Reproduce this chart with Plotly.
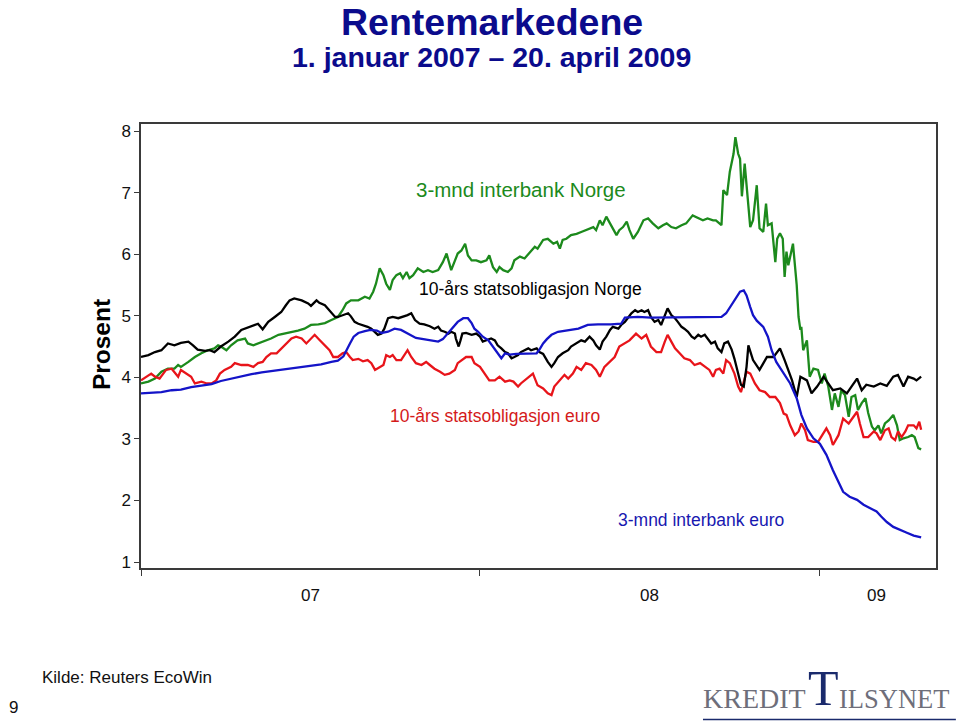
import pandas as pd
import plotly.graph_objects as go

# ---------------- data (day offset from 1 Jan 2007, percent) ----------------
start_date = "2007-01-01"

norway_10y = [
    (0, 4.33), (8, 4.36), (15, 4.41), (22, 4.44), (29, 4.55), (36, 4.52), (43, 4.56), (51, 4.58),
    (56, 4.52), (61, 4.45), (69, 4.43), (74, 4.44), (79, 4.41), (86, 4.50), (94, 4.58), (101, 4.66),
    (108, 4.77), (115, 4.81), (122, 4.85), (126, 4.87), (131, 4.78), (137, 4.90), (144, 4.98),
    (151, 5.06), (156, 5.17), (160, 5.25), (165, 5.28), (173, 5.25), (180, 5.20), (183, 5.16),
    (189, 5.25), (192, 5.21), (198, 5.17), (203, 5.09), (209, 4.98), (212, 4.98), (217, 5.01),
    (223, 5.04), (226, 4.99), (230, 4.90), (234, 4.87), (239, 4.85), (244, 4.82), (248, 4.79),
    (252, 4.74), (255, 4.69), (259, 4.71), (262, 4.79), (266, 4.96), (271, 4.98), (277, 4.96),
    (282, 4.98), (287, 5.01), (291, 5.04), (295, 4.93), (300, 4.87), (305, 4.86), (311, 4.83),
    (316, 4.79), (320, 4.82), (323, 4.76), (327, 4.74), (331, 4.71), (334, 4.74), (338, 4.71),
    (339, 4.63), (342, 4.50), (344, 4.60), (346, 4.71), (350, 4.72), (356, 4.69), (361, 4.71),
    (365, 4.66), (368, 4.58), (372, 4.60), (377, 4.63), (381, 4.60), (384, 4.52), (388, 4.47),
    (392, 4.41), (395, 4.39), (399, 4.31), (402, 4.33), (406, 4.36), (409, 4.41), (413, 4.44),
    (417, 4.47), (420, 4.44), (426, 4.47), (429, 4.41), (433, 4.38), (438, 4.25), (442, 4.17),
    (445, 4.23), (449, 4.33), (454, 4.39), (460, 4.44), (463, 4.50), (469, 4.55), (474, 4.60),
    (478, 4.58), (483, 4.66), (487, 4.60), (490, 4.52), (494, 4.45), (497, 4.58), (501, 4.66),
    (505, 4.77), (508, 4.82), (514, 4.79), (517, 4.85), (521, 4.90), (524, 4.96), (528, 5.04),
    (532, 5.09), (535, 5.06), (539, 5.09), (542, 5.06), (546, 5.09), (549, 4.98), (553, 4.90),
    (557, 4.93), (560, 4.85), (564, 5.01), (567, 5.12), (571, 5.01), (575, 4.96), (578, 4.90),
    (582, 4.82), (585, 4.79), (589, 4.74), (593, 4.66), (596, 4.63), (600, 4.69), (603, 4.66),
    (607, 4.69), (610, 4.63), (614, 4.55), (618, 4.58), (621, 4.47), (625, 4.41), (628, 4.55),
    (632, 4.58), (636, 4.45), (639, 4.30), (643, 4.05), (646, 3.88), (649, 3.85), (652, 4.17),
    (654, 4.52), (659, 4.28), (666, 4.12), (674, 4.33), (681, 4.33), (688, 4.47), (693, 4.28),
    (701, 3.95), (706, 3.68), (710, 4.01), (717, 3.95), (722, 3.74), (728, 3.85), (735, 4.01),
    (740, 3.90), (745, 3.79), (753, 3.82), (760, 3.74), (765, 3.85), (771, 3.98), (776, 3.79),
    (781, 3.88), (789, 3.85), (796, 3.90), (803, 3.86), (810, 4.01), (815, 4.04), (821, 3.85),
    (826, 4.01), (832, 3.98), (835, 3.95), (840, 4.01),
]

norway_3m = [
    (0, 3.90), (8, 3.93), (15, 3.98), (22, 4.09), (29, 4.14), (36, 4.14), (40, 4.20), (43, 4.17),
    (51, 4.25), (58, 4.33), (65, 4.39), (72, 4.44), (79, 4.47), (83, 4.52), (86, 4.50), (92, 4.44),
    (97, 4.52), (104, 4.60), (112, 4.63), (115, 4.55), (121, 4.52), (126, 4.55), (133, 4.58),
    (140, 4.63), (148, 4.69), (155, 4.71), (162, 4.74), (169, 4.76), (176, 4.79), (183, 4.85),
    (191, 4.86), (198, 4.88), (205, 4.93), (212, 4.98), (217, 5.09), (221, 5.20), (226, 5.25),
    (234, 5.25), (241, 5.31), (246, 5.28), (250, 5.39), (253, 5.52), (257, 5.77), (261, 5.66),
    (264, 5.52), (268, 5.42), (271, 5.58), (275, 5.66), (279, 5.69), (282, 5.61), (286, 5.71),
    (289, 5.61), (293, 5.66), (298, 5.77), (304, 5.71), (309, 5.74), (314, 5.71), (320, 5.74),
    (325, 5.87), (329, 6.01), (334, 5.74), (338, 5.90), (341, 6.01), (345, 6.06), (349, 6.17),
    (352, 5.98), (356, 5.90), (361, 5.90), (366, 5.87), (372, 5.90), (375, 5.98), (379, 5.79),
    (383, 5.71), (386, 5.79), (390, 5.74), (395, 5.71), (399, 5.77), (402, 5.90), (408, 5.96),
    (413, 5.93), (419, 6.04), (424, 6.12), (427, 6.09), (433, 6.23), (438, 6.25), (444, 6.17),
    (448, 6.20), (451, 6.09), (454, 6.23), (458, 6.25), (463, 6.31), (469, 6.33), (474, 6.36),
    (479, 6.39), (483, 6.42), (487, 6.44), (490, 6.39), (494, 6.55), (497, 6.47), (501, 6.61),
    (505, 6.50), (508, 6.42), (512, 6.31), (515, 6.39), (519, 6.44), (523, 6.53), (526, 6.39),
    (530, 6.25), (535, 6.36), (541, 6.55), (546, 6.58), (551, 6.50), (557, 6.42), (562, 6.47),
    (566, 6.50), (571, 6.44), (576, 6.42), (582, 6.47), (587, 6.50), (594, 6.63), (600, 6.58),
    (605, 6.55), (610, 6.58), (616, 6.55), (619, 6.55), (623, 6.50), (625, 6.47), (627, 7.04),
    (631, 6.96), (634, 7.34), (638, 7.63), (640, 7.90), (643, 7.63), (645, 7.55), (647, 6.94),
    (650, 7.47), (654, 6.74), (656, 6.44), (659, 6.55), (663, 7.12), (666, 6.42), (670, 6.36),
    (673, 6.82), (675, 6.47), (679, 6.50), (683, 5.87), (685, 6.25), (688, 6.34), (691, 6.25),
    (693, 5.63), (695, 6.04), (697, 5.82), (702, 6.17), (706, 5.50), (708, 4.98), (710, 4.77),
    (711, 4.82), (713, 4.44), (717, 4.60), (720, 4.01), (724, 4.14), (729, 4.12), (733, 3.90),
    (736, 4.06), (740, 3.85), (744, 3.47), (747, 3.74), (751, 3.52), (754, 3.79), (758, 3.71),
    (762, 3.36), (765, 3.68), (769, 3.71), (772, 3.47), (776, 3.58), (780, 3.66), (783, 3.42),
    (787, 3.20), (790, 3.14), (794, 3.22), (797, 3.09), (801, 3.25), (805, 3.30), (810, 3.39),
    (814, 3.22), (817, 2.98), (821, 3.01), (826, 3.03), (830, 3.06), (833, 3.03), (837, 2.85),
    (840, 2.83),
]

euro_10y = [
    (0, 3.95), (6, 4.01), (11, 4.06), (15, 4.01), (20, 3.98), (24, 4.06), (27, 4.12), (33, 4.14),
    (36, 4.09), (40, 4.01), (43, 4.12), (49, 4.06), (54, 4.01), (58, 3.90), (65, 3.93), (71, 3.90),
    (76, 3.90), (81, 3.95), (85, 4.06), (90, 4.12), (97, 4.17), (101, 4.23), (108, 4.20),
    (115, 4.20), (121, 4.17), (126, 4.23), (131, 4.25), (135, 4.33), (140, 4.39), (146, 4.39),
    (151, 4.47), (156, 4.55), (162, 4.63), (167, 4.66), (173, 4.63), (178, 4.55), (182, 4.61),
    (187, 4.69), (192, 4.61), (198, 4.52), (203, 4.44), (207, 4.33), (212, 4.33), (217, 4.39),
    (221, 4.41), (225, 4.33), (228, 4.28), (234, 4.30), (239, 4.26), (244, 4.28), (248, 4.23),
    (252, 4.12), (255, 4.15), (261, 4.20), (264, 4.36), (268, 4.33), (271, 4.36), (275, 4.28),
    (280, 4.28), (284, 4.36), (287, 4.44), (291, 4.33), (296, 4.23), (302, 4.20), (307, 4.25),
    (311, 4.20), (316, 4.14), (322, 4.09), (327, 4.04), (332, 4.06), (338, 4.12), (341, 4.23),
    (345, 4.28), (350, 4.33), (356, 4.33), (359, 4.23), (365, 4.17), (370, 4.06), (375, 3.95),
    (381, 3.95), (386, 4.01), (392, 3.93), (397, 3.95), (401, 3.93), (406, 3.85), (409, 3.90),
    (413, 3.95), (419, 4.01), (422, 4.06), (427, 3.87), (433, 3.82), (438, 3.74), (442, 3.71),
    (445, 3.85), (451, 3.95), (456, 4.04), (460, 3.98), (465, 4.06), (469, 4.17), (474, 4.12),
    (479, 4.23), (485, 4.20), (490, 4.12), (494, 4.01), (499, 4.17), (505, 4.25), (510, 4.33),
    (515, 4.50), (521, 4.55), (526, 4.60), (533, 4.71), (539, 4.63), (544, 4.69), (549, 4.50),
    (555, 4.41), (560, 4.41), (564, 4.58), (567, 4.69), (571, 4.58), (575, 4.47), (580, 4.39),
    (585, 4.31), (591, 4.28), (596, 4.20), (602, 4.23), (607, 4.17), (612, 4.12), (616, 4.01),
    (619, 4.12), (623, 4.14), (627, 4.06), (630, 4.28), (634, 4.23), (639, 4.06), (643, 3.85),
    (646, 3.76), (652, 4.09), (656, 4.06), (661, 3.90), (666, 3.79), (672, 3.76), (677, 3.68),
    (683, 3.68), (688, 3.58), (692, 3.41), (695, 3.39), (699, 3.22), (704, 3.06), (708, 3.12),
    (711, 3.25), (715, 3.14), (718, 2.98), (724, 2.95), (729, 2.95), (735, 3.09), (738, 3.17),
    (742, 3.06), (745, 2.90), (751, 3.06), (756, 3.33), (762, 3.25), (767, 3.36), (771, 3.44),
    (774, 3.25), (778, 3.03), (783, 3.03), (789, 3.12), (792, 3.09), (796, 2.98), (801, 3.14),
    (805, 3.17), (808, 3.03), (812, 2.98), (815, 3.12), (819, 3.03), (823, 3.12), (826, 3.22),
    (832, 3.22), (835, 3.17), (838, 3.28), (840, 3.15),
]

euro_3m = [
    (0, 3.74), (11, 3.75), (22, 3.76), (33, 3.79), (43, 3.80), (54, 3.84), (65, 3.87), (76, 3.89),
    (86, 3.94), (97, 3.98), (108, 4.01), (119, 4.05), (130, 4.08), (140, 4.10), (151, 4.13),
    (162, 4.14), (173, 4.17), (183, 4.19), (194, 4.21), (205, 4.25), (212, 4.27), (218, 4.34),
    (221, 4.44), (225, 4.55), (229, 4.66), (234, 4.72), (241, 4.75), (247, 4.77), (254, 4.76),
    (259, 4.72), (266, 4.74), (273, 4.79), (280, 4.77), (286, 4.72), (291, 4.68), (296, 4.64),
    (304, 4.62), (311, 4.60), (320, 4.58), (325, 4.62), (331, 4.72), (336, 4.82), (341, 4.90),
    (347, 4.96), (352, 4.96), (356, 4.88), (359, 4.79), (363, 4.74), (368, 4.66), (374, 4.60),
    (379, 4.50), (384, 4.39), (388, 4.31), (392, 4.39), (397, 4.37), (404, 4.38), (413, 4.38),
    (420, 4.38), (426, 4.39), (429, 4.45), (433, 4.55), (437, 4.62), (442, 4.69), (449, 4.74),
    (460, 4.77), (471, 4.79), (481, 4.85), (492, 4.86), (506, 4.86), (517, 4.87), (521, 4.97),
    (535, 4.98), (549, 4.97), (564, 4.97), (578, 4.97), (593, 4.97), (607, 4.97), (619, 4.97),
    (625, 4.98), (630, 5.04), (636, 5.18), (640, 5.28), (645, 5.39), (649, 5.41), (652, 5.33),
    (656, 5.14), (659, 5.01), (663, 4.92), (670, 4.82), (675, 4.66), (679, 4.44), (684, 4.25),
    (692, 4.06), (699, 3.90), (706, 3.66), (711, 3.39), (717, 3.17), (724, 3.01), (731, 2.92),
    (738, 2.74), (745, 2.49), (751, 2.30), (756, 2.14), (763, 2.06), (771, 2.01), (778, 1.93),
    (785, 1.87), (792, 1.82), (797, 1.74), (803, 1.65), (810, 1.57), (817, 1.52), (824, 1.48),
    (832, 1.43), (840, 1.40),
]

y_ticks = [1, 2, 3, 4, 5, 6, 7, 8]
year_starts = ["2007-01-01", "2008-01-01", "2009-01-01"]
year_labels = ["07", "08", "09"]
year_label_dates = ["2007-07-02", "2008-07-02", "2009-03-03"]

series = [
    ("3-mnd interbank Norge", norway_3m, "#1C8A1C"),
    ("10-års statsobligasjon euro", euro_10y, "#E8141A"),
    ("10-års statsobligasjon Norge", norway_10y, "#000000"),
    ("3-mnd interbank euro", euro_3m, "#1414C8"),
]

# ---------------- figure ----------------
t0 = pd.Timestamp(start_date)
fig = go.Figure()
for name, data, color in series:
    days = [d for d, _ in data]
    vals = [v for _, v in data]
    dates = [t0 + pd.Timedelta(days=d) for d in days]
    fig.add_trace(go.Scatter(x=dates, y=vals, mode="lines", name=name,
                             line=dict(color=color, width=2.3), hoverinfo="skip"))

FONT = "Liberation Sans, Arial, sans-serif"
axis_line = "#3a3a3a"

ann = []
# titles
ann.append(dict(text="<b>Rentemarkedene</b>", x=0.4415, y=1.2306, xref="paper", yref="paper",
                showarrow=False, font=dict(size=37.5, color="#0B0B8C", family=FONT),
                xanchor="center", yanchor="middle", borderpad=0))
ann.append(dict(text="<b>1. januar 2007 – 20. april 2009</b>", x=0.4403, y=1.1520, xref="paper",
                yref="paper", showarrow=False, font=dict(size=28.5, color="#0B0B8C", family=FONT),
                xanchor="center", yanchor="middle", borderpad=0))
# y axis title
ann.append(dict(text="<b>Prosent</b>", x=-0.0503, y=0.502, xref="paper", yref="paper",
                showarrow=False, textangle=-90, font=dict(size=24.5, color="#000000", family=FONT),
                xanchor="center", yanchor="middle"))
# x labels
for lab, dt in zip(year_labels, year_label_dates):
    ann.append(dict(text=lab, x=dt, y=-0.061, xref="x", yref="paper", showarrow=False,
                    font=dict(size=17, color="#111111", family=FONT),
                    xanchor="center", yanchor="middle"))
# series labels
ann.append(dict(text="3-mnd interbank Norge", x=0.4774, y=0.8536, xref="paper", yref="paper",
                showarrow=False, font=dict(size=20.5, color="#1C8A1C", family=FONT),
                xanchor="center", yanchor="middle"))
ann.append(dict(text="10-års statsobligasjon Norge", x=0.4899, y=0.6284, xref="paper",
                yref="paper", showarrow=False, font=dict(size=17.5, color="#000000", family=FONT),
                xanchor="center", yanchor="middle"))
ann.append(dict(text="10-års statsobligasjon euro", x=0.4447, y=0.3423, xref="paper",
                yref="paper", showarrow=False, font=dict(size=17.5, color="#D41A1A", family=FONT),
                xanchor="center", yanchor="middle"))
ann.append(dict(text="3-mnd interbank euro", x=0.7050, y=0.1081, xref="paper", yref="paper",
                showarrow=False, font=dict(size=17.5, color="#1818B0", family=FONT),
                xanchor="center", yanchor="middle"))
# footer
ann.append(dict(text="Kilde: Reuters EcoWin", x=-0.127, y=-0.2455, xref="paper", yref="paper",
                showarrow=False, font=dict(size=17, color="#111111", family=FONT),
                xanchor="left", yanchor="middle"))
ann.append(dict(text="9", x=-0.1686, y=-0.315, xref="paper", yref="paper",
                showarrow=False, font=dict(size=17, color="#111111", family=FONT),
                xanchor="left", yanchor="middle"))
# logo
SERIF = "Liberation Serif, Times New Roman, serif"
ann.append(dict(text="KREDIT", x=0.839, y=-0.333, xref="paper", yref="paper", showarrow=False,
                font=dict(size=28, color="#6E6E7A", family=SERIF), xanchor="right", yanchor="bottom"))
ann.append(dict(text="T", x=0.859, y=-0.338, xref="paper", yref="paper", showarrow=False,
                font=dict(size=50, color="#1A2A6C", family=SERIF), xanchor="center", yanchor="bottom"))
ann.append(dict(text="ILSYNET", x=0.876, y=-0.333, xref="paper", yref="paper", showarrow=False,
                font=dict(size=26.5, color="#6E6E7A", family=SERIF), xanchor="left", yanchor="bottom"))

fig.update_layout(
    width=960, height=721,
    margin=dict(l=141, r=24, t=124, b=153),
    paper_bgcolor="white", plot_bgcolor="white",
    showlegend=False,
    font=dict(family=FONT, color="#111111"),
    annotations=ann,
    shapes=[dict(type="line", xref="paper", yref="paper", x0=0.7069, x1=1.025,
                 y0=-0.3413, y1=-0.3413, line=dict(color="#1A2A6C", width=1.5))],
)
fig.update_xaxes(type="date", range=["2007-01-01", "2009-05-06"], tickvals=year_starts,
                 ticktext=["", "", ""], ticks="outside", ticklen=6, tickwidth=1.3,
                 tickcolor=axis_line, showgrid=False, zeroline=False, showline=True,
                 mirror=True, linecolor=axis_line, linewidth=1.5)
fig.update_yaxes(range=[0.903, 8.114], tickvals=y_ticks, ticks="outside", ticklen=5,
                 tickwidth=1.3, tickcolor=axis_line, showgrid=False, zeroline=False,
                 showline=True, mirror=True, linecolor=axis_line, linewidth=1.5,
                 tickfont=dict(size=17, color="#111111", family=FONT))

fig.write_html("out.html")
